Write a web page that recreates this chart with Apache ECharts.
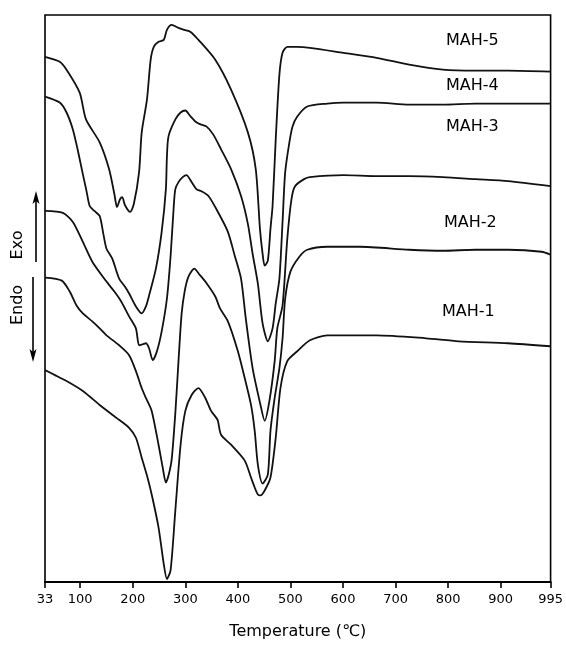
<!DOCTYPE html>
<html>
<head>
<meta charset="utf-8">
<script src="https://cdn.jsdelivr.net/npm/echarts@6/dist/echarts.min.js"></script>
<style>
html,body{margin:0;padding:0;background:#fff;}
#chart{width:566px;height:645px;}
</style>
</head>
<body>
<div id="chart"></div>
<script>
// temperature ticks on the x axis
var tempTicks = [33, 100, 200, 300, 400, 500, 600, 700, 800, 900, 995];

// DTA traces, [temperature (C), signal in arbitrary units]
var mah5 = [[33,528],[61,523],[74,515],[99,492],[111,465],[137,442],[155,415],[165,390],[170,377],[176,385],[180,387],[185,379],[195,372],[202,380],[212,412],[217,452],[227,485],[234,525],[240,538],[249,543],[259,545],[265,555],[274,560],[287,557],[298,555],[310,553],[325,545],[357,525],[387,495],[419,452],[434,415],[442,355],[447,330],[451,318],[457,323],[462,355],[466,378],[472,445],[479,510],[485,532],[494,538],[513,538],[537,537],[601,532],[664,527],[726,520],[790,515],[852,514],[914,514],[995,513]];
var mah4 = [[33,488],[61,482],[74,472],[86,455],[95,435],[105,410],[112,393],[118,378],[127,373],[137,368],[144,350],[150,335],[161,325],[174,305],[185,297],[193,290],[206,277],[217,270],[225,277],[231,288],[244,315],[255,352],[263,395],[265,428],[268,448],[281,465],[291,472],[300,474],[310,468],[319,463],[329,460],[340,458],[353,450],[368,435],[387,415],[406,388],[419,360],[428,330],[438,300],[447,260],[457,242],[466,255],[472,280],[479,305],[485,362],[490,412],[498,442],[504,458],[513,468],[532,478],[570,481],[601,482],[664,482],[726,480],[790,480],[852,481],[914,481],[995,481]];
var mah3 = [[33,373],[67,371],[86,362],[105,342],[123,322],[150,302],[165,292],[178,282],[193,267],[206,255],[212,238],[219,239],[225,240],[231,235],[238,223],[246,232],[255,252],[265,285],[272,328],[278,378],[281,395],[287,402],[295,407],[302,409],[312,402],[321,395],[330,393],[344,388],[362,372],[381,352],[394,328],[406,305],[415,265],[428,215],[443,178],[451,162],[460,182],[470,222],[475,255],[485,278],[494,345],[502,385],[509,398],[526,405],[537,407],[601,409],[664,408],[726,408],[790,407],[852,405],[914,403],[995,398]];
var mah2 = [[33,306],[65,303],[80,292],[93,278],[105,270],[123,262],[137,255],[150,248],[174,238],[193,228],[206,212],[217,195],[225,185],[236,172],[249,138],[257,115],[263,100],[268,107],[274,123],[281,170],[287,222],[293,270],[299,293],[306,307],[317,315],[327,309],[338,302],[357,287],[366,275],[381,262],[400,232],[413,205],[425,178],[432,152],[438,118],[447,99],[457,108],[462,152],[470,185],[479,215],[485,245],[490,285],[500,312],[517,327],[532,334],[570,337],[632,337],[726,334],[790,333],[852,334],[914,334],[978,332],[995,329]];
var mah1 = [[33,213],[52,208],[74,202],[105,192],[137,178],[169,165],[193,155],[206,145],[217,125],[227,107],[236,88],[249,55],[259,18],[265,3],[272,12],[281,72],[291,138],[300,172],[312,188],[325,195],[338,185],[349,172],[359,165],[362,162],[368,148],[387,138],[413,122],[425,105],[432,95],[438,88],[443,87],[451,92],[462,105],[472,145],[481,195],[494,222],[513,232],[537,243],[570,248],[664,248],[758,245],[820,242],[914,240],[995,237]];

var seriesNames = ['MAH-5', 'MAH-4', 'MAH-3', 'MAH-2', 'MAH-1'];
var seriesData = [mah5, mah4, mah3, mah2, mah1];

var chart = echarts.init(document.getElementById('chart'));

var font = 'DejaVu Sans';
var series = seriesData.map(function(d, i){
    return {
        name: seriesNames[i],
        type: 'line',
        data: d,
        smooth: 0.25,
        showSymbol: false,
        silent: true,
        lineStyle: {color: '#111', width: 1.8}
    };
});

var option = {
    animation: false,
    backgroundColor: '#fff',
    grid: {
        left: 45, right: 10, top: 15, bottom: 60,
        show: true, borderColor: '#000', borderWidth: 1.6
    },
    xAxis: {
        type: 'value',
        min: 33,
        max: 995,
        name: 'Temperature (℃)',
        nameLocation: 'middle',
        nameGap: 42,
        nameTextStyle: {fontFamily: font, fontSize: 16, color: '#000'},
        axisLine: {show: true, onZero: false, lineStyle: {color: '#000', width: 1.8}},
        axisTick: {show: true, length: 6, customValues: tempTicks, lineStyle: {color: '#000', width: 1.6}},
        axisLabel: {customValues: tempTicks, margin: 11, color: '#000', fontFamily: font, fontSize: 13},
        splitLine: {show: false}
    },
    yAxis: {
        type: 'value',
        min: 0,
        max: 570,
        show: false
    },
    series: series,
    graphic: [
        // curve labels
        {type: 'text', left: 446, top: 33, style: {text: 'MAH-5', font: '16px ' + font, fill: '#000'}},
        {type: 'text', left: 446, top: 78, style: {text: 'MAH-4', font: '16px ' + font, fill: '#000'}},
        {type: 'text', left: 446, top: 119, style: {text: 'MAH-3', font: '16px ' + font, fill: '#000'}},
        {type: 'text', left: 444, top: 215, style: {text: 'MAH-2', font: '16px ' + font, fill: '#000'}},
        {type: 'text', left: 442, top: 304, style: {text: 'MAH-1', font: '16px ' + font, fill: '#000'}},
        // Exo / Endo arrows
        {type: 'text', x: 18, y: 245, rotation: Math.PI / 2,
            style: {text: 'Exo', font: '16px ' + font, fill: '#000', align: 'center', verticalAlign: 'middle'}},
        {type: 'text', x: 18, y: 305, rotation: Math.PI / 2,
            style: {text: 'Endo', font: '16px ' + font, fill: '#000', align: 'center', verticalAlign: 'middle'}},
        {type: 'line', shape: {x1: 36, y1: 262, x2: 36, y2: 198}, style: {stroke: '#000', lineWidth: 1.6}},
        {type: 'polygon', shape: {points: [[36, 191], [32.5, 204], [36, 201], [39.5, 204]]}, style: {fill: '#000'}},
        {type: 'line', shape: {x1: 33, y1: 277, x2: 33, y2: 355}, style: {stroke: '#000', lineWidth: 1.6}},
        {type: 'polygon', shape: {points: [[33, 362], [29.5, 349], [33, 352], [36.5, 349]]}, style: {fill: '#000'}}
    ]
};

chart.setOption(option);
</script>
</body>
</html>
